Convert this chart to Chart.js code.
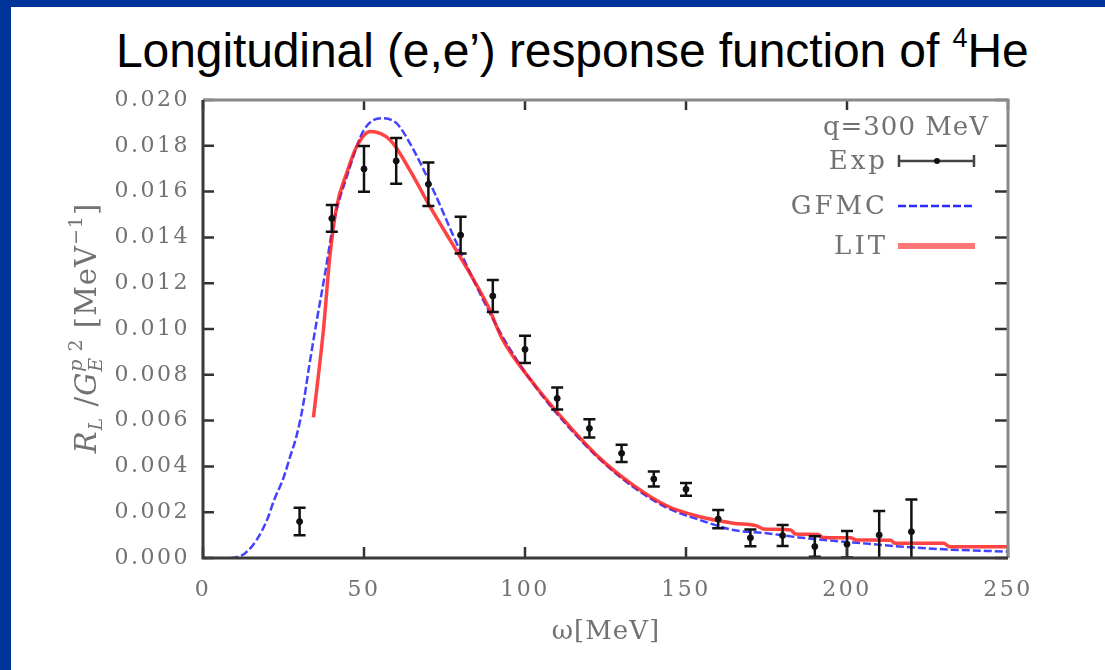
<!DOCTYPE html>
<html>
<head>
<meta charset="utf-8">
<title>Longitudinal response function of 4He</title>
<script src="https://cdn.jsdelivr.net/npm/chart.js@4.4.0/dist/chart.umd.min.js"></script>
<style>
  html, body { margin: 0; padding: 0; background: #fff; overflow: hidden; }
  #frame { position: absolute; left: 0; top: 0; width: 1105px; height: 670px; box-sizing: border-box;
           border-left: 11px solid #003399; border-top: 7px solid #003399; }
  #title { position: absolute; left: 116px; top: 23px; font-family: "Liberation Sans", Arial, sans-serif;
           font-size: 48px; color: #000; white-space: nowrap; letter-spacing: -0.1px; }
  #title sup { font-size: 27px; vertical-align: 20px; line-height: 0; }
  #wrap { position: absolute; left: 0; top: 0; width: 1105px; height: 670px; }
</style>
</head>
<body>
<div id="frame"></div>
<div id="title">Longitudinal (e,e’) response function of <sup>4</sup>He</div>
<div id="wrap"><canvas id="canvas" width="1105" height="670"></canvas></div>
<script>
// experimental points, omega in MeV
const expOmega = [30, 40, 50, 60, 70, 80, 90, 100, 110, 120, 130, 140, 150, 160, 170, 180, 190, 200, 210, 220];
const expValue = [0.00159, 0.01483, 0.01699, 0.01734, 0.01632, 0.01410, 0.01144, 0.00911, 0.00697, 0.00566,
                  0.00457, 0.00345, 0.00300, 0.00170, 0.00088, 0.00098, 0.00050, 0.00060, 0.00100, 0.00115];
const expError = [0.00060, 0.00058, 0.00100, 0.00100, 0.00095, 0.00080, 0.00070, 0.00060, 0.00048, 0.00040,
                  0.00038, 0.00033, 0.00028, 0.00040, 0.00037, 0.00046, 0.00045, 0.00058, 0.00105, 0.00140];

// GFMC curve (blue dashed)
const gfmcOmega = [8.5, 10, 13, 16.7, 20, 22, 25, 27, 29, 31, 33, 35, 38, 40.5, 45, 50, 55.5, 60, 63.5,
                   71.5, 78.3, 85.5, 93.3, 102.6, 113, 123.3, 133.6, 144, 154.3, 164.7, 175, 185, 195, 205, 215, 230, 250];
const gfmcValue = [0, 0.00002, 0.0002, 0.0008, 0.0017, 0.0025, 0.0035, 0.0044, 0.0053, 0.0066, 0.0084, 0.0101,
                   0.0125, 0.0146, 0.0168, 0.0187, 0.0192, 0.0190, 0.01830, 0.01607, 0.01389, 0.0117, 0.0096,
                   0.0076, 0.0058, 0.0043, 0.0031, 0.0022, 0.00166, 0.00122, 0.00108, 0.0009, 0.00076, 0.00064,
                   0.00052, 0.00038, 0.00028];

// LIT curve (red)
const litOmega = [34.3, 37.4, 39.4, 41.5, 44.6, 47.7, 51.9, 58.1, 64.8, 70.5, 76.7, 82.9, 88.6, 92.8, 102.6,
                  113, 123.3, 133.6, 144, 154.3, 164.7, 172, 174, 182.5, 184, 191, 192.5, 201, 203, 213.5, 215,
                  230, 232, 250];
const litValue = [0.00614, 0.00996, 0.01316, 0.01534, 0.0168, 0.01796, 0.01862, 0.01825, 0.0168, 0.01534,
                  0.01389, 0.01243, 0.01097, 0.0096, 0.00763, 0.00588, 0.00435, 0.00318, 0.00228, 0.0018,
                  0.00152, 0.0014, 0.00127, 0.00122, 0.00105, 0.00103, 0.0009, 0.00088, 0.00079, 0.00077,
                  0.00064, 0.00064, 0.00049, 0.00049];

const xTickValues = [0, 50, 100, 150, 200, 250];
const yTickValues = [0, 0.002, 0.004, 0.006, 0.008, 0.010, 0.012, 0.014, 0.016, 0.018, 0.020];

const labelFont = '"DejaVu Serif", "Liberation Serif", serif';
const grey = '#727272';

function pairs(xs, ys) {
  return xs.map((x, i) => ({x: x, y: ys[i]}));
}

// error bars, frame, inward ticks, legend and axis titles
const decorations = {
  id: 'decorations',
  beforeDraw(chart) {
    // the reference's tick labels are widely spaced
    chart.ctx.letterSpacing = '2.5px';
  },
  beforeDatasetsDraw(chart) {
    chart.ctx.letterSpacing = '0px';
  },
  afterDatasetsDraw(chart) {
    const {ctx, chartArea} = chart;
    const xs = chart.scales.x, ys = chart.scales.y;
    ctx.save();
    ctx.beginPath();
    ctx.rect(chartArea.left, chartArea.top, chartArea.right - chartArea.left, chartArea.bottom - chartArea.top);
    ctx.clip();
    ctx.strokeStyle = '#111';
    ctx.lineWidth = 2.5;
    expOmega.forEach((w, i) => {
      const px = xs.getPixelForValue(w);
      const top = ys.getPixelForValue(expValue[i] + expError[i]);
      const bot = ys.getPixelForValue(expValue[i] - expError[i]);
      ctx.beginPath();
      ctx.moveTo(px, top); ctx.lineTo(px, bot);
      ctx.moveTo(px - 6, top); ctx.lineTo(px + 6, top);
      ctx.moveTo(px - 6, bot); ctx.lineTo(px + 6, bot);
      ctx.stroke();
    });
    ctx.restore();
  },
  afterDraw(chart) {
    const {ctx, chartArea} = chart;
    const xs = chart.scales.x, ys = chart.scales.y;
    const {left, right, top, bottom} = chartArea;
    ctx.save();

    // ticks
    ctx.strokeStyle = '#333';
    ctx.lineWidth = 2.5;
    yTickValues.forEach((v) => {
      const py = ys.getPixelForValue(v);
      ctx.beginPath();
      ctx.moveTo(left, py); ctx.lineTo(left + 11, py);
      ctx.moveTo(right, py); ctx.lineTo(right - 13, py);
      ctx.stroke();
    });
    xTickValues.forEach((v) => {
      const px = xs.getPixelForValue(v);
      ctx.beginPath();
      ctx.moveTo(px, bottom); ctx.lineTo(px, bottom - 11);
      ctx.moveTo(px, top); ctx.lineTo(px, top + 10);
      ctx.stroke();
    });

    // frame: grey top/right, dark left/bottom
    ctx.lineWidth = 3;
    ctx.strokeStyle = '#8a8a8a';
    ctx.beginPath();
    ctx.moveTo(left, top); ctx.lineTo(right, top); ctx.lineTo(right, bottom);
    ctx.stroke();
    ctx.strokeStyle = '#3a3a3a';
    ctx.beginPath();
    ctx.moveTo(left, top); ctx.lineTo(left, bottom); ctx.lineTo(right, bottom);
    ctx.stroke();

    // legend
    ctx.fillStyle = grey;
    ctx.textAlign = 'right';
    ctx.textBaseline = 'middle';
    ctx.font = '26px ' + labelFont;
    ctx.letterSpacing = '1px';
    ctx.fillText('q=300 MeV', 989, 128);
    ctx.letterSpacing = '3px';
    ctx.fillText('Exp', 888, 162);
    ctx.fillText('GFMC', 888, 207);
    ctx.fillText('LIT', 888, 247);
    ctx.letterSpacing = '0px';

    ctx.strokeStyle = '#444';
    ctx.lineWidth = 2.5;
    ctx.beginPath();
    ctx.moveTo(899, 161); ctx.lineTo(974, 161);
    ctx.moveTo(899, 155); ctx.lineTo(899, 167);
    ctx.moveTo(974, 155); ctx.lineTo(974, 167);
    ctx.stroke();
    ctx.fillStyle = '#111';
    ctx.beginPath();
    ctx.arc(937, 161, 3, 0, Math.PI * 2);
    ctx.fill();

    ctx.strokeStyle = 'rgba(20,20,255,0.9)';
    ctx.lineWidth = 2.5;
    ctx.setLineDash([8, 3]);
    ctx.beginPath();
    ctx.moveTo(898, 206); ctx.lineTo(975, 206);
    ctx.stroke();
    ctx.setLineDash([]);

    ctx.strokeStyle = 'rgba(255,60,60,0.7)';
    ctx.lineWidth = 6;
    ctx.beginPath();
    ctx.moveTo(898, 246); ctx.lineTo(975, 246);
    ctx.stroke();

    // x title
    ctx.fillStyle = grey;
    ctx.textAlign = 'center';
    ctx.font = '26px ' + labelFont;
    ctx.letterSpacing = '1px';
    ctx.fillText('ω[MeV]', 606, 632);

    // y title, rotated
    const big = '29px ' + labelFont, bigIt = 'italic 29px ' + labelFont;
    const small = '19px ' + labelFont, smallIt = 'italic 19px ' + labelFont;
    const parts = [
      {t: 'R', f: bigIt, dy: 0},
      {t: 'L', f: smallIt, dy: 6},
      {t: ' /', f: big, dy: 0},
      {t: 'G', f: bigIt, dy: 0},
      {t: 'E', f: smallIt, dy: 6, stack: true},
      {t: 'p', f: smallIt, dy: -14},
      {t: ' 2', f: small, dy: -14},
      {t: ' [MeV', f: big, dy: 0},
      {t: '−1', f: small, dy: -14},
      {t: ']', f: big, dy: 0}
    ];
    let total = 0;
    parts.forEach((p) => {
      ctx.font = p.f;
      p.w = ctx.measureText(p.t).width;
      if (!p.stack) total += p.w;
    });
    ctx.translate(96, 328 + total / 2);
    ctx.rotate(-Math.PI / 2);
    ctx.textAlign = 'left';
    ctx.textBaseline = 'alphabetic';
    let cx = 0;
    parts.forEach((p) => {
      ctx.font = p.f;
      ctx.fillText(p.t, cx, p.dy);
      if (!p.stack) cx += p.w;
    });
    ctx.restore();
  }
};

const chart = new Chart(document.getElementById('canvas').getContext('2d'), {
  type: 'scatter',
  data: {
    datasets: [
      {
        label: 'GFMC',
        data: pairs(gfmcOmega, gfmcValue),
        showLine: true,
        borderColor: 'rgba(20,20,255,0.8)',
        borderWidth: 2.5,
        borderDash: [8, 3],
        pointRadius: 0,
        cubicInterpolationMode: 'monotone',
        order: 3
      },
      {
        label: 'LIT',
        data: pairs(litOmega, litValue),
        showLine: true,
        borderColor: 'rgba(255,20,20,0.8)',
        borderWidth: 3.5,
        pointRadius: 0,
        cubicInterpolationMode: 'monotone',
        order: 2
      },
      {
        label: 'Exp',
        data: pairs(expOmega, expValue),
        showLine: false,
        pointRadius: 3,
        pointBackgroundColor: '#111',
        pointBorderColor: '#111',
        order: 1
      }
    ]
  },
  options: {
    responsive: false,
    animation: false,
    layout: {
      padding: {top: 100, right: 97, left: 0, bottom: 0}
    },
    plugins: {
      legend: {display: false},
      tooltip: {enabled: false},
      title: {display: false}
    },
    scales: {
      x: {
        type: 'linear',
        min: 0,
        max: 250,
        grid: {display: false, drawTicks: false},
        border: {display: false},
        ticks: {
          stepSize: 50,
          padding: 19,
          maxRotation: 0,
          color: grey,
          font: {family: labelFont, size: 22}
        },
        afterFit: (scale) => { scale.height = 112; }
      },
      y: {
        min: 0,
        max: 0.02,
        grid: {display: false, drawTicks: false},
        border: {display: false},
        ticks: {
          stepSize: 0.002,
          padding: 13,
          color: grey,
          font: {family: labelFont, size: 22},
          callback: (v) => v.toFixed(3)
        },
        afterFit: (scale) => { scale.width = 203; }
      }
    }
  },
  plugins: [decorations]
});
</script>
</body>
</html>
